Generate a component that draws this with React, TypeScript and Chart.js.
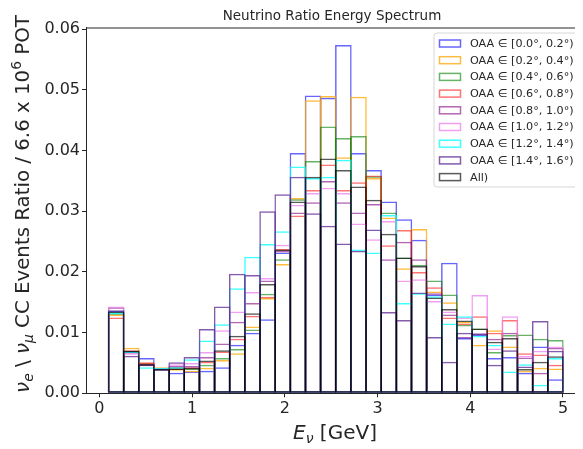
import React, { useEffect, useRef } from "react";
import { Chart, registerables } from "chart.js";

Chart.register(...registerables);

// Bin centres (GeV) of the 30 energy bins
const energies = [
  0.182, 0.345, 0.508, 0.672, 0.835, 0.998, 1.162, 1.325, 1.488, 1.652,
  1.815, 1.978, 2.142, 2.305, 2.468, 2.632, 2.795, 2.958, 3.122, 3.285,
  3.448, 3.612, 3.775, 3.938, 4.102, 4.265, 4.428, 4.592, 4.755, 4.918,
];

const oaa00 = [
  0.0136, 0.0070, 0.0058, 0.0041, 0.0034, 0.0036, 0.0037, 0.0043, 0.0080, 0.0100,
  0.0122, 0.0232, 0.0396, 0.0491, 0.0487, 0.0574, 0.0396, 0.0368, 0.0316, 0.0287,
  0.0253, 0.0163, 0.0215, 0.0091, 0.0097, 0.0058, 0.0060, 0.0034, 0.0077, 0.0023,
];
const oaa02 = [
  0.0130, 0.0075, 0.0050, 0.0043, 0.0040, 0.0037, 0.0042, 0.0055, 0.0066, 0.0110,
  0.0157, 0.0213, 0.0322, 0.0483, 0.0490, 0.0389, 0.0489, 0.0355, 0.0290, 0.0206,
  0.0271, 0.0168, 0.0150, 0.0118, 0.0080, 0.0104, 0.0077, 0.0037, 0.0042, 0.0041,
];
const oaa04 = [
  0.0132, 0.0070, 0.0049, 0.0041, 0.0043, 0.0041, 0.0047, 0.0058, 0.0073, 0.0105,
  0.0164, 0.0221, 0.0320, 0.0383, 0.0440, 0.0421, 0.0424, 0.0358, 0.0298, 0.0224,
  0.0212, 0.0186, 0.0163, 0.0113, 0.0107, 0.0068, 0.0096, 0.0097, 0.0090, 0.0088,
];
const oaa06 = [
  0.0125, 0.0071, 0.0051, 0.0041, 0.0041, 0.0043, 0.0052, 0.0069, 0.0090, 0.0128,
  0.0159, 0.0238, 0.0293, 0.0335, 0.0377, 0.0335, 0.0348, 0.0359, 0.0244, 0.0269,
  0.0200, 0.0175, 0.0125, 0.0115, 0.0127, 0.0100, 0.0121, 0.0066, 0.0064, 0.0047,
];
const oaa08 = [
  0.0142, 0.0068, 0.0049, 0.0040, 0.0045, 0.0045, 0.0060, 0.0082, 0.0118, 0.0149,
  0.0186, 0.0235, 0.0298, 0.0315, 0.0350, 0.0315, 0.0298, 0.0312, 0.0221, 0.0250,
  0.0221, 0.0165, 0.0130, 0.0093, 0.0099, 0.0090, 0.0100, 0.0059, 0.0034, 0.0075,
];
const oaa10 = [
  0.0143, 0.0066, 0.0047, 0.0041, 0.0048, 0.0050, 0.0068, 0.0104, 0.0135, 0.0167,
  0.0190, 0.0245, 0.0311, 0.0330, 0.0339, 0.0330, 0.0280, 0.0254, 0.0284, 0.0186,
  0.0188, 0.0152, 0.0135, 0.0125, 0.0162, 0.0074, 0.0127, 0.0062, 0.0070, 0.0077,
];
const oaa12 = [
  0.0133, 0.0069, 0.0043, 0.0042, 0.0043, 0.0056, 0.0087, 0.0114, 0.0173, 0.0225,
  0.0246, 0.0267, 0.0374, 0.0355, 0.0357, 0.0385, 0.0237, 0.0232, 0.0294, 0.0149,
  0.0165, 0.0160, 0.0115, 0.0127, 0.0095, 0.0080, 0.0036, 0.0048, 0.0014, 0.0058,
];
const oaa14 = [
  0.0137, 0.0062, 0.0048, 0.0040, 0.0051, 0.0060, 0.0106, 0.0143, 0.0197, 0.0195,
  0.0300, 0.0328, 0.0357, 0.0297, 0.0276, 0.0247, 0.0235, 0.0270, 0.0134, 0.0121,
  0.0166, 0.0093, 0.0052, 0.0100, 0.0098, 0.0047, 0.0071, 0.0044, 0.0119, 0.0070,
];
const allOaa = [
  0.0135, 0.0070, 0.0048, 0.0040, 0.0041, 0.0042, 0.0054, 0.0071, 0.0095, 0.0132,
  0.0180, 0.0237, 0.0316, 0.0357, 0.0387, 0.0368, 0.0341, 0.0319, 0.0263, 0.0224,
  0.0210, 0.0158, 0.0139, 0.0120, 0.0107, 0.0085, 0.0091, 0.0040, 0.0052, 0.0061,
];

const seriesLabels = [
  "OAA ∈ [0.0°, 0.2°)",
  "OAA ∈ [0.2°, 0.4°)",
  "OAA ∈ [0.4°, 0.6°)",
  "OAA ∈ [0.6°, 0.8°)",
  "OAA ∈ [0.8°, 1.0°)",
  "OAA ∈ [1.0°, 1.2°)",
  "OAA ∈ [1.2°, 1.4°)",
  "OAA ∈ [1.4°, 1.6°)",
  "All)",
];
const seriesValues = [oaa00, oaa02, oaa04, oaa06, oaa08, oaa10, oaa12, oaa14, allOaa];
const seriesColors = [
  "rgba(0,0,255,0.6)",
  "rgba(255,165,0,0.75)",
  "rgba(0,128,0,0.6)",
  "rgba(255,0,0,0.55)",
  "rgba(128,0,128,0.6)",
  "rgba(238,130,238,0.75)",
  "rgba(0,255,255,0.75)",
  "rgba(102,51,153,0.8)",
  "rgba(0,0,0,0.65)",
];

const xTicks = [0, 1, 2, 3, 4, 5];
const yTicks = [0, 0.01, 0.02, 0.03, 0.04, 0.05, 0.06];

const FONT = '"DejaVu Sans", sans-serif';
const AXIS_COLOR = "#262626";
const EDGE = 1.5;

type Seg = { t: string; it?: boolean; sub?: boolean; sup?: boolean };

function segFont(s: Seg, size: number) {
  const sz = s.sub || s.sup ? size * 0.7 : size;
  return `${s.it ? "italic " : ""}${sz}px ${FONT}`;
}

function drawRich(ctx: CanvasRenderingContext2D, segs: Seg[], cx: number, baseline: number, size: number) {
  let total = 0;
  const widths = segs.map((s) => {
    ctx.font = segFont(s, size);
    const w = ctx.measureText(s.t).width;
    total += w;
    return w;
  });
  let x = cx - total / 2;
  ctx.textAlign = "left";
  ctx.textBaseline = "alphabetic";
  segs.forEach((s, i) => {
    ctx.font = segFont(s, size);
    const dy = s.sub ? size * 0.22 : s.sup ? -size * 0.42 : 0;
    ctx.fillText(s.t, x, baseline + dy);
    x += widths[i];
  });
}

const yTitle: Seg[] = [
  { t: "ν", it: true },
  { t: "e", it: true, sub: true },
  { t: " \\ " },
  { t: "ν", it: true },
  { t: "μ", it: true, sub: true },
  { t: " CC Events Ratio / 6.6 x 10" },
  { t: "6", sup: true },
  { t: " POT" },
];
const xTitle: Seg[] = [
  { t: "E", it: true },
  { t: "ν", it: true, sub: true },
  { t: " [GeV]" },
];
const chartTitle = "Neutrino Ratio Energy Spectrum";

const decorPlugin = {
  id: "decor",
  afterDatasetsDraw(chart: any) {
    const { ctx, chartArea: a } = chart;
    ctx.save();
    // top & right spines
    ctx.strokeStyle = AXIS_COLOR;
    ctx.lineWidth = 1;
    ctx.beginPath();
    ctx.moveTo(a.left, a.top + 0.5);
    ctx.lineTo(a.right - 0.5, a.top + 0.5);
    ctx.lineTo(a.right - 0.5, a.bottom);
    ctx.stroke();

    // legend
    const lx = 426, ly = 25, lw = 143, lh = 154, r = 3;
    ctx.beginPath();
    ctx.moveTo(lx + r, ly);
    ctx.arcTo(lx + lw, ly, lx + lw, ly + lh, r);
    ctx.arcTo(lx + lw, ly + lh, lx, ly + lh, r);
    ctx.arcTo(lx, ly + lh, lx, ly, r);
    ctx.arcTo(lx, ly, lx + lw, ly, r);
    ctx.closePath();
    ctx.fillStyle = "rgba(255,255,255,0.8)";
    ctx.fill();
    ctx.strokeStyle = "#d6d6d6";
    ctx.lineWidth = 1;
    ctx.stroke();

    chart.data.datasets.forEach((ds: any, i: number) => {
      const rowY = 35.5 + i * 16.7;
      ctx.strokeStyle = ds.borderColor;
      ctx.lineWidth = 1.5;
      ctx.strokeRect(431.5, rowY - 3.5, 21, 7);
      ctx.fillStyle = "#262626";
      ctx.font = `11.2px ${FONT}`;
      ctx.textAlign = "left";
      ctx.textBaseline = "middle";
      ctx.fillText(ds.label, 462, rowY + 0.5);
    });

    // titles
    ctx.fillStyle = AXIS_COLOR;
    ctx.font = `13.5px ${FONT}`;
    ctx.textAlign = "center";
    ctx.textBaseline = "alphabetic";
    ctx.fillText(chartTitle, 324, 12);

    drawRich(ctx, xTitle, 327, 431, 20);

    ctx.translate(15, 196);
    ctx.rotate(-Math.PI / 2);
    drawRich(ctx, yTitle, 0, 6, 19.8);
    ctx.restore();
  },
};

export default function App() {
  const ref = useRef<HTMLCanvasElement | null>(null);

  useEffect(() => {
    if (!ref.current) return;
    const datasets = seriesValues.map((vals, i) => ({
      label: seriesLabels[i],
      data: vals.map((v, j) => ({ x: energies[j], y: v })),
      backgroundColor: "rgba(0,0,0,0)",
      borderColor: seriesColors[i],
      borderWidth: EDGE,
      borderSkipped: false,
      grouped: false,
      // widen each bar by one edge width so that neighbouring outlines share the bin edge
      barPercentage: 1 + EDGE / 15.12,
      categoryPercentage: 1,
      order: seriesValues.length - 1 - i,
    }));

    const chart = new Chart(ref.current, {
      type: "bar",
      data: { datasets },
      options: {
        animation: false,
        responsive: false,
        devicePixelRatio: 1,
        layout: { padding: { top: 19.5, left: 0, right: 0, bottom: 0 } },
        plugins: {
          legend: { display: false },
          title: { display: false },
          tooltip: { enabled: false },
        },
        scales: {
          x: {
            type: "linear",
            min: -0.143,
            max: 5.216,
            offset: false,
            afterBuildTicks: (s: any) => {
              s.ticks = xTicks.map((v) => ({ value: v }));
            },
            ticks: {
              font: { family: FONT, size: 16 },
              color: AXIS_COLOR,
              padding: 2,
              maxRotation: 0,
              autoSkip: false,
              callback: (v: any) => String(v),
            },
            grid: {
              display: true,
              offset: false,
              drawOnChartArea: false,
              drawTicks: true,
              tickLength: 4,
              color: AXIS_COLOR,
            },
            border: { display: true, color: AXIS_COLOR, width: 1 },
            afterFit: (s: any) => {
              s.height = 55.7;
            },
          },
          y: {
            type: "linear",
            min: 0,
            max: 0.0603,
            afterBuildTicks: (s: any) => {
              s.ticks = yTicks.map((v) => ({ value: v }));
            },
            ticks: {
              font: { family: FONT, size: 16 },
              color: AXIS_COLOR,
              padding: 2,
              autoSkip: false,
              callback: (v: any) => Number(v).toFixed(2),
            },
            grid: {
              display: true,
              drawOnChartArea: false,
              drawTicks: true,
              tickLength: 4,
              color: AXIS_COLOR,
            },
            border: { display: true, color: AXIS_COLOR, width: 1 },
            afterFit: (s: any) => {
              s.width = 78;
            },
          },
        },
      },
      plugins: [decorPlugin],
    } as any);

    return () => chart.destroy();
  }, []);

  return (
    <div style={{ width: 575, height: 441 }}>
      <canvas ref={ref} width={575} height={441} style={{ display: "block" }} />
    </div>
  );
}
